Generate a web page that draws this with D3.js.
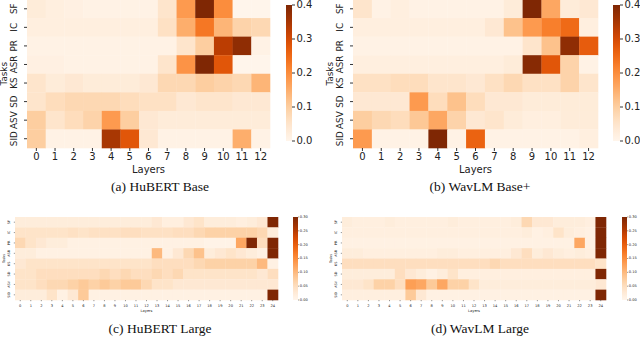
<!DOCTYPE html>
<html><head><meta charset="utf-8">
<script src="https://cdn.jsdelivr.net/npm/d3@7"></script>
<style>body{margin:0;background:#fff}svg{display:block}</style>
</head><body>
<script>
const tasks = ["SF","IC","PR","ASR","KS","SD","ASV","SID"];
const layersBase = d3.range(13);
const layersLarge = d3.range(25);
const ticksBase = [0,0.1,0.2,0.3,0.4];
const ticksLarge = [0,0.05,0.1,0.15,0.2,0.25,0.3];

const hubertBase = [
 [0.03,0.02,0.015,0.01,0.01,0.01,0.01,0.05,0.18,0.40,0.20,0.0,0.0],
 [0.02,0.02,0.02,0.02,0.02,0.02,0.02,0.06,0.15,0.23,0.14,0.09,0.08],
 [0.01,0.01,0.01,0.01,0.01,0.01,0.01,0.01,0.05,0.10,0.33,0.38,0.01],
 [0.015,0.015,0.01,0.01,0.01,0.01,0.01,0.05,0.19,0.40,0.28,0.0,0.0],
 [0.05,0.03,0.04,0.03,0.03,0.03,0.04,0.08,0.08,0.10,0.09,0.08,0.14],
 [0.05,0.07,0.08,0.08,0.08,0.07,0.06,0.06,0.04,0.05,0.05,0.04,0.04],
 [0.10,0.05,0.07,0.09,0.18,0.10,0.04,0.03,0.03,0.03,0.03,0.03,0.03],
 [0.10,0.01,0.01,0.01,0.35,0.28,0.04,0.01,0.01,0.01,0.01,0.15,0.01]
];
const wavlmBase = [
 [0.05,0.01,0.02,0.01,0.01,0.01,0.01,0.01,0.03,0.40,0.16,0.03,0.04],
 [0.02,0.02,0.02,0.02,0.02,0.02,0.02,0.04,0.12,0.18,0.22,0.25,0.02],
 [0.01,0.01,0.01,0.01,0.01,0.01,0.01,0.01,0.01,0.05,0.12,0.38,0.27],
 [0.02,0.02,0.02,0.02,0.02,0.02,0.02,0.02,0.03,0.39,0.28,0.09,0.01],
 [0.06,0.06,0.07,0.07,0.05,0.05,0.04,0.06,0.08,0.06,0.06,0.09,0.05],
 [0.04,0.04,0.04,0.18,0.07,0.12,0.07,0.04,0.04,0.03,0.03,0.03,0.03],
 [0.10,0.08,0.07,0.11,0.16,0.09,0.04,0.05,0.03,0.02,0.02,0.03,0.03],
 [0.18,0.01,0.01,0.01,0.40,0.01,0.26,0.01,0.01,0.01,0.01,0.01,0.02]
];
const hubertLarge = [
 [0.02,0.02,0.02,0.02,0.02,0.02,0.02,0.02,0.02,0.02,0.02,0.02,0.02,0.03,0.015,0.015,0.03,0.04,0.02,0.02,0.02,0.015,0.02,0.03,0.30],
 [0.04,0.04,0.04,0.04,0.04,0.045,0.04,0.045,0.045,0.045,0.05,0.05,0.045,0.045,0.045,0.05,0.05,0.06,0.07,0.07,0.07,0.07,0.07,0.06,0.02],
 [0.06,0.04,0.03,0.02,0.02,0.01,0.01,0.01,0.01,0.01,0.01,0.01,0.01,0.01,0.01,0.01,0.01,0.01,0.005,0.005,0.005,0.12,0.30,0.05,0.30],
 [0.02,0.02,0.01,0.01,0.01,0.01,0.01,0.01,0.01,0.01,0.01,0.01,0.01,0.10,0.01,0.03,0.06,0.09,0.02,0.03,0.04,0.03,0.02,0.01,0.30],
 [0.03,0.04,0.04,0.04,0.04,0.04,0.04,0.04,0.04,0.04,0.04,0.04,0.04,0.05,0.05,0.05,0.05,0.06,0.07,0.07,0.07,0.07,0.07,0.10,0.01],
 [0.04,0.04,0.05,0.05,0.05,0.05,0.05,0.05,0.06,0.05,0.06,0.05,0.05,0.06,0.05,0.06,0.04,0.04,0.04,0.04,0.04,0.04,0.04,0.03,0.05],
 [0.04,0.04,0.05,0.06,0.06,0.07,0.08,0.07,0.08,0.07,0.08,0.08,0.06,0.04,0.04,0.03,0.03,0.03,0.03,0.03,0.03,0.03,0.03,0.03,0.03],
 [0.02,0.02,0.02,0.04,0.01,0.03,0.08,0.01,0.01,0.01,0.01,0.01,0.01,0.01,0.01,0.01,0.01,0.01,0.01,0.01,0.01,0.01,0.01,0.01,0.30]
];
const wavlmLarge = [
 [0.02,0.015,0.015,0.015,0.02,0.015,0.015,0.015,0.015,0.015,0.02,0.015,0.015,0.015,0.015,0.015,0.02,0.06,0.03,0.03,0.02,0.02,0.02,0.015,0.30],
 [0.015,0.015,0.015,0.015,0.015,0.015,0.015,0.015,0.015,0.015,0.015,0.015,0.015,0.015,0.015,0.015,0.015,0.02,0.01,0.015,0.04,0.02,0.015,0.01,0.30],
 [0.01,0.01,0.01,0.01,0.01,0.01,0.01,0.01,0.01,0.01,0.01,0.01,0.01,0.01,0.01,0.01,0.01,0.01,0.01,0.01,0.01,0.01,0.12,0.01,0.30],
 [0.02,0.02,0.015,0.015,0.015,0.015,0.015,0.015,0.015,0.02,0.02,0.015,0.015,0.015,0.015,0.015,0.03,0.05,0.02,0.03,0.02,0.015,0.02,0.015,0.30],
 [0.05,0.05,0.05,0.05,0.05,0.05,0.05,0.05,0.05,0.05,0.05,0.05,0.05,0.05,0.06,0.05,0.05,0.05,0.05,0.05,0.05,0.05,0.05,0.05,0.04],
 [0.02,0.02,0.02,0.02,0.02,0.05,0.03,0.02,0.01,0.02,0.04,0.015,0.015,0.015,0.015,0.015,0.015,0.015,0.015,0.015,0.015,0.015,0.015,0.015,0.30],
 [0.03,0.03,0.04,0.07,0.07,0.05,0.13,0.12,0.08,0.12,0.07,0.07,0.04,0.02,0.02,0.02,0.02,0.02,0.02,0.02,0.02,0.02,0.02,0.02,0.03],
 [0.015,0.015,0.015,0.015,0.015,0.015,0.08,0.03,0.01,0.01,0.01,0.01,0.01,0.01,0.01,0.01,0.01,0.01,0.01,0.01,0.01,0.01,0.01,0.01,0.30]
];
const captions = ["(a) HuBERT Base","(b) WavLM Base+","(c) HuBERT Large","(d) WavLM Large"];

const W = 640, H = 337;
const svg = d3.select("body").append("svg").attr("width", W).attr("height", H);

const panels = [
 {data: hubertBase, layers: layersBase, vmax: 0.4, ticks: ticksBase, fmt: d3.format(".1f"),
  hm: [27, 270, -0.5, 148], cb: [286, 292, 5, 141], fs: 10, yfs: 8.8, yLabX: 14, tasksX: 4, xLabY: 157, layersY: 170,
  cap: [160, 188], capfs: 13.5, tick: 3},
 {data: wavlmBase, layers: layersBase, vmax: 0.4, ticks: ticksBase, fmt: d3.format(".1f"),
  hm: [353, 598, -0.5, 148], cb: [613, 620, 5, 141], fs: 10, yfs: 8.8, yLabX: 340, tasksX: 330, xLabY: 157, layersY: 170,
  cap: [480, 188], capfs: 13.5, tick: 3},
 {data: hubertLarge, layers: layersLarge, vmax: 0.3, ticks: ticksLarge, fmt: d3.format(".2f"),
  hm: [15, 278, 217, 300], cb: [293, 298, 217, 300], fs: 3.6, yfs: 3.4, yLabX: 9, tasksX: 4, xLabY: 306, layersY: 311,
  cap: [160, 330], capfs: 13.5, tick: 1.2},
 {data: wavlmLarge, layers: layersLarge, vmax: 0.3, ticks: ticksLarge, fmt: d3.format(".2f"),
  hm: [342, 606, 217, 300], cb: [622, 627, 217, 300], fs: 3.6, yfs: 3.4, yLabX: 336, tasksX: 331, xLabY: 306, layersY: 311,
  cap: [480, 330], capfs: 13.5, tick: 1.2}
];

panels.forEach((p, pi) => {
  const g = svg.append("g");
  const x = d3.scaleBand().domain(p.layers).range([p.hm[0], p.hm[1]]);
  const y = d3.scaleBand().domain(tasks).range([p.hm[2], p.hm[3]]);
  const color = d3.scaleSequential(d3.interpolateOranges).domain([0, p.vmax]).clamp(true);
  const cells = [];
  p.data.forEach((row, ri) => row.forEach((v, ci) => cells.push({t: tasks[ri], l: p.layers[ci], v})));
  g.selectAll("rect.cell").data(cells).join("rect").attr("class", "cell")
    .attr("x", d => x(d.l)).attr("y", d => y(d.t))
    .attr("width", x.bandwidth() + 0.3).attr("height", y.bandwidth() + 0.3)
    .attr("fill", d => color(d.v));

  const font = "DejaVu Sans, sans-serif";
  const sw = p.fs > 5 ? 0.8 : 0.4;
  g.selectAll("line.xt").data(p.layers).join("line")
    .attr("x1", d => x(d) + x.bandwidth()/2).attr("x2", d => x(d) + x.bandwidth()/2)
    .attr("y1", p.hm[3]).attr("y2", p.hm[3] + p.tick).attr("stroke", "#000").attr("stroke-width", sw);
  g.selectAll("text.xt").data(p.layers).join("text")
    .attr("x", d => x(d) + x.bandwidth()/2).attr("y", p.xLabY)
    .attr("text-anchor", "middle").attr("dominant-baseline", "middle")
    .attr("font-family", font).attr("font-size", p.fs).attr("fill", "#222").text(d => d);
  g.append("text").attr("x", (p.hm[0] + p.hm[1]) / 2).attr("y", p.layersY)
    .attr("text-anchor", "middle").attr("dominant-baseline", "middle")
    .attr("font-family", font).attr("font-size", p.fs).attr("fill", "#222").text("Layers");
  g.selectAll("line.yt").data(tasks).join("line")
    .attr("x1", p.hm[0] - p.tick).attr("x2", p.hm[0])
    .attr("y1", d => y(d) + y.bandwidth()/2).attr("y2", d => y(d) + y.bandwidth()/2)
    .attr("stroke", "#000").attr("stroke-width", sw);
  g.selectAll("text.yt").data(tasks).join("text")
    .attr("transform", d => `translate(${p.yLabX},${y(d) + y.bandwidth()/2}) rotate(-90)`)
    .attr("text-anchor", "middle").attr("dominant-baseline", "middle")
    .attr("font-family", font).attr("font-size", p.yfs).attr("fill", "#222").text(d => d);
  g.append("text")
    .attr("transform", `translate(${p.tasksX},${(p.hm[2] + p.hm[3]) / 2}) rotate(-90)`)
    .attr("text-anchor", "middle").attr("dominant-baseline", "middle")
    .attr("font-family", font).attr("font-size", p.yfs).attr("fill", "#222").text("Tasks");

  const gid = "grad" + pi;
  const grad = svg.append("defs").append("linearGradient").attr("id", gid)
    .attr("x1", 0).attr("y1", 1).attr("x2", 0).attr("y2", 0);
  d3.range(0, 1.0001, 0.05).forEach(t => grad.append("stop").attr("offset", t).attr("stop-color", color(t * p.vmax)));
  g.append("rect").attr("x", p.cb[0]).attr("y", p.cb[2]).attr("width", p.cb[1] - p.cb[0]).attr("height", p.cb[3] - p.cb[2])
    .attr("fill", `url(#${gid})`);
  const cy = d3.scaleLinear().domain([0, p.vmax]).range([p.cb[3], p.cb[2]]);
  g.selectAll("line.ct").data(p.ticks).join("line")
    .attr("x1", p.cb[1]).attr("x2", p.cb[1] + p.tick).attr("y1", d => cy(d)).attr("y2", d => cy(d))
    .attr("stroke", "#000").attr("stroke-width", sw);
  g.selectAll("text.ct").data(p.ticks).join("text")
    .attr("x", p.cb[1] + p.tick + (p.fs > 5 ? 1.5 : 0.6)).attr("y", d => cy(d))
    .attr("dominant-baseline", "middle").attr("font-family", font).attr("font-size", p.fs).attr("fill", "#222")
    .text(d => p.fmt(d));

  g.append("text").attr("x", p.cap[0]).attr("y", p.cap[1]).attr("text-anchor", "middle").attr("dominant-baseline", "middle")
    .attr("font-family", "Liberation Serif, Times New Roman, serif").attr("font-size", p.capfs).attr("fill", "#111")
    .text(captions[pi]);
});
</script>
</body></html>
